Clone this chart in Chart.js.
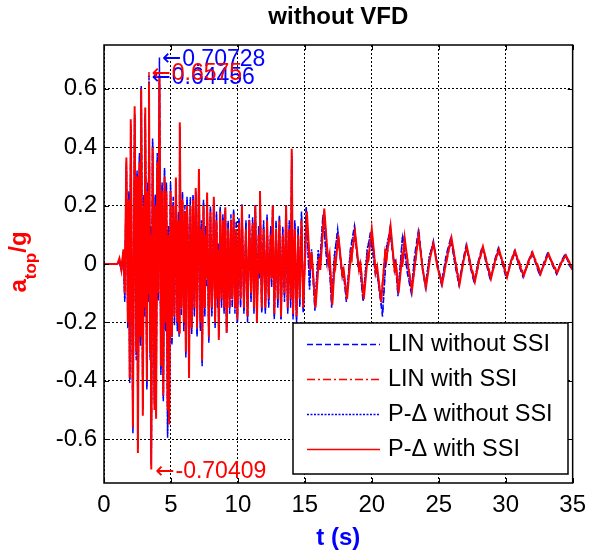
<!DOCTYPE html>
<html>
<head>
<meta charset="utf-8">
<script src="https://cdn.jsdelivr.net/npm/chart.js@4.4.1/dist/chart.umd.min.js"></script>
<style>
  html, body { margin: 0; padding: 0; background: #fff; }
  #wrap { width: 594px; height: 553px; }
</style>
</head>
<body>
<div id="wrap"><canvas id="accChart" width="594" height="553"></canvas></div>
<script>
// ----------------------------------------------------
// DATA
// ----------------------------------------------------
const xTicks = [0, 5, 10, 15, 20, 25, 30, 35];
const yTicks = [-0.6, -0.4, -0.2, 0, 0.2, 0.4, 0.6];
const seriesNames = ['LIN without SSI', 'LIN with SSI', 'P-\u0394 without SSI', 'P-\u0394 with SSI'];

// turning points during strong shaking, shared by all four runs (s)
const tEarly = [
  0, 1.0, 1.15, 1.3, 1.45, 1.55, 1.67, 1.78, 1.86, 1.92, 2.00, 2.16,
  2.29, 2.41, 2.47, 2.53, 2.65, 2.72, 2.78, 2.90, 2.98, 3.03, 3.08, 3.20,
  3.27, 3.30, 3.36, 3.45, 3.48, 3.53, 3.63, 3.77, 3.83, 3.89, 3.98, 4.05,
  4.14, 4.25, 4.34, 4.43, 4.52, 4.60, 4.66, 4.75, 4.81, 4.87, 4.97, 5.07,
  5.17, 5.26, 5.37, 5.48, 5.56, 5.61, 5.66, 5.77, 5.86, 5.96, 6.04, 6.11,
  6.20, 6.28, 6.35, 6.45, 6.55, 6.65, 6.75, 6.85, 6.95, 7.09, 7.20, 7.27,
  7.33, 7.43, 7.53, 7.60, 7.65, 7.70, 7.83, 7.95, 8.05, 8.12, 8.20, 8.30,
  8.40, 8.48, 8.53, 8.57, 8.68, 8.78, 8.88, 8.97, 9.06, 9.16, 9.27, 9.38,
  9.48, 9.58, 9.68, 9.78, 9.88, 9.96, 10.08, 10.2, 10.3, 10.45, 10.6, 10.72,
  10.85, 10.98, 11.1, 11.2, 11.3, 11.42, 11.55, 11.6, 11.65, 11.78, 11.92, 12.05,
  12.18, 12.3, 12.45, 12.52, 12.6, 12.72, 12.85, 12.98, 13.1, 13.22, 13.35, 13.48,
  13.6, 13.72, 13.84, 13.94, 14.02, 14.12, 14.25, 14.38, 14.5, 14.62, 14.75, 14.88
];

// free vibration tail, with SSI (s)
const tLateSSI = [
  15.15, 15.4, 15.5, 15.8, 16.05, 16.15, 16.45, 16.75, 16.85, 17.05,
  17.25, 17.3, 17.5, 17.8, 17.9, 18.15, 18.45, 18.5, 18.75, 19.05,
  19.15, 19.4, 19.7, 19.75, 20.0, 20.3, 20.4, 20.7, 21.0, 21.1,
  21.4, 21.7, 21.8, 22.0, 22.25, 22.3, 22.45, 22.75, 23.0, 23.3,
  23.5, 23.8, 24.05, 24.35, 24.6, 24.9, 25.25, 25.6, 25.95, 26.3,
  26.55, 26.85, 27.1, 27.4, 27.7, 28.0, 28.3, 28.6, 28.9, 29.2,
  29.5, 29.8, 30.1, 30.4, 30.7, 31.0, 31.35, 31.7, 32.0, 32.3,
  32.6, 32.9, 33.2, 33.5, 33.85, 34.15, 34.5, 34.8, 35.0
];

// free vibration tail, fixed base (s)
const tLateFix = [
  15.1, 15.35,
  15.5, 15.75, 16.0, 16.1, 16.35, 16.65, 16.8, 17.0, 17.2, 17.45,
  17.75, 17.85, 18.1, 18.4, 18.7, 19.0, 19.1, 19.35, 19.65, 19.9,
  20.25, 20.35, 20.8, 21.1, 21.35, 21.65, 21.75, 21.95, 22.3, 22.65,
  22.95, 23.2, 23.5, 23.8, 24.0, 24.3, 24.6, 24.9, 25.2, 25.55,
  25.9, 26.2, 26.5, 26.8, 27.05, 27.35, 27.65, 27.95, 28.25, 28.55,
  28.85, 29.15, 29.45, 29.75, 30.05, 30.35, 30.65, 30.95, 31.3, 31.65,
  31.95, 32.25, 32.55, 32.85, 33.15, 33.45, 33.8, 34.1, 34.45, 34.75,
  35.0
];

// P-Delta with SSI (red solid)
const aPDSSIEarly = [
  0, 0, 0.02, -0.02, 0.05, -0.1, 0.365, -0.2, 0.22, -0.39, 0.496, -0.56,
  0.54, -0.3, 0.3, -0.647, 0.35, -0.25, 0.6, -0.52, 0.2, -0.15, 0.536, -0.4,
  0.25, -0.1, 0.62, -0.3, 0.1, -0.704, 0.4, -0.5, 0.2, -0.53, 0.35, -0.1,
  0.645, -0.35, 0.25, -0.45, 0.3, -0.2, 0.25, -0.5, 0.1, -0.55, 0.25, -0.25,
  0.2, -0.18, 0.296, -0.2, 0.15, -0.235, 0.485, -0.15, 0.22, -0.2, 0.18, -0.3,
  0.2, 0.05, -0.39, 0.2, -0.22, 0.22, -0.15, 0.26, -0.22, 0.325, -0.2, 0.12,
  -0.33, 0.2, -0.15, 0.1, -0.05, 0.245, -0.25, 0.18, -0.15, -0.05, 0.23, -0.2,
  0.15, -0.12, 0.05, -0.26, 0.18, -0.12, 0.15, -0.15, 0.194, -0.235, 0.12, -0.15,
  0.15, -0.12, 0.17, -0.15, 0.12, -0.19, 0.14, -0.12, 0.2, -0.15, 0.12, -0.18,
  0.15, -0.1, 0.14, -0.15, 0.2, -0.2, 0.1, -0.03, 0.25, -0.15, 0.12, -0.15,
  0.15, -0.12, 0.1, -0.05, 0.2, -0.17, 0.12, -0.12, 0.15, -0.18, 0.1, -0.1,
  0.2, -0.15, 0.12, -0.12, 0.395, -0.17, 0.12, -0.18, 0.1, -0.12, 0.15, -0.15
];
const aPDSSILate = [
  0.18, -0.02, 0.04, -0.15, 0.02, -0.02, 0.19, 0.0, 0.03, -0.14,
  0.02, 0.0, 0.10, -0.04, -0.02, -0.12, 0.04, 0.03, 0.11, -0.02,
  0.0, -0.12, 0.03, 0.02, 0.12, -0.03, -0.01, -0.13, 0.04, 0.02,
  0.13, -0.02, 0.0, -0.1, 0.02, 0.0, 0.09, -0.02, -0.09, 0.03,
  0.1, -0.02, -0.08, 0.02, 0.07, -0.01, -0.07, 0.02, 0.09, -0.01,
  -0.07, 0.01, 0.06, -0.01, -0.06, 0.01, 0.06, 0.0, -0.05, 0.01,
  0.05, 0.0, -0.045, 0.01, 0.045, 0.0, -0.04, 0.01, 0.04, 0.0,
  -0.035, 0.005, 0.035, 0.0, -0.03, 0.005, 0.03, 0.0, -0.02
];

// LIN with SSI (red dash-dot)
const aLINSSIEarly = [
  0, 0, 0.015, -0.018, 0.045, -0.09, 0.35, -0.18, 0.2, -0.37, 0.48, -0.54,
  0.52, -0.28, 0.28, -0.63, 0.33, -0.23, 0.58, -0.5, 0.22, -0.13, 0.52, -0.38,
  0.23, -0.12, 0.6575, -0.28, 0.12, -0.68, 0.38, -0.48, 0.22, -0.51, 0.33, -0.12,
  0.63, -0.33, 0.23, -0.43, 0.28, -0.22, 0.23, -0.48, 0.12, -0.53, 0.23, -0.23,
  0.19, -0.17, 0.28, -0.19, 0.14, -0.22, 0.47, -0.14, 0.21, -0.19, 0.17, -0.28,
  0.19, 0.04, -0.37, 0.19, -0.21, 0.21, -0.14, 0.25, -0.21, 0.31, -0.19, 0.11,
  -0.31, 0.19, -0.14, 0.09, -0.04, 0.23, -0.24, 0.17, -0.14, -0.04, 0.22, -0.19,
  0.14, -0.11, 0.04, -0.25, 0.17, -0.11, 0.14, -0.14, 0.18, -0.22, 0.11, -0.14,
  0.14, -0.11, 0.16, -0.14, 0.11, -0.18, 0.13, -0.11, 0.19, -0.14, 0.11, -0.17,
  0.14, -0.09, 0.13, -0.14, 0.19, -0.19, 0.09, -0.02, 0.24, -0.14, 0.11, -0.14,
  0.14, -0.11, 0.09, -0.04, 0.19, -0.16, 0.11, -0.11, 0.14, -0.17, 0.09, -0.09,
  0.19, -0.14, 0.11, -0.11, 0.37, -0.16, 0.11, -0.17, 0.09, -0.11, 0.14, -0.14
];
const aLINSSILate = [
  0.16, -0.03, 0.03, -0.14, 0.03, -0.01, 0.17, 0.01, 0.02, -0.13,
  0.03, 0.01, 0.09, -0.03, -0.03, -0.11, 0.05, 0.02, 0.1, -0.03,
  0.01, -0.11, 0.04, 0.01, 0.11, -0.02, -0.02, -0.12, 0.05, 0.01,
  0.12, -0.03, 0.01, -0.09, 0.03, -0.01, 0.085, -0.01, -0.085, 0.02,
  0.095, -0.01, -0.075, 0.03, 0.065, 0.0, -0.065, 0.01, 0.085, 0.0,
  -0.065, 0.02, 0.055, 0.0, -0.055, 0.0, 0.055, 0.01, -0.045, 0.0,
  0.045, 0.01, -0.04, 0.0, 0.04, 0.01, -0.035, 0.0, 0.035, 0.01,
  -0.03, 0.0, 0.03, 0.005, -0.025, 0.0, 0.025, 0.005, -0.015
];

// LIN without SSI (blue dashed)
const aLINFixEarly = [
  0, 0, 0.01, -0.025, 0.04, -0.13, 0.33, -0.22, 0.25, -0.4, 0.46, -0.58,
  0.5, -0.33, 0.32, -0.6, 0.38, -0.28, 0.61, -0.49, 0.24, -0.18, 0.5, -0.43,
  0.28, -0.13, 0.58, -0.33, 0.13, -0.66, 0.43, -0.47, 0.24, -0.5, 0.38, -0.13,
  0.70728, -0.38, 0.28, -0.47, 0.33, -0.23, 0.28, -0.595, 0.13, -0.52, 0.28, -0.28,
  0.23, -0.21, 0.27, -0.23, 0.18, -0.25, 0.45, -0.18, 0.25, -0.23, 0.2, -0.32,
  0.23, 0.07, -0.37, 0.23, -0.24, 0.24, -0.18, 0.24, -0.25, 0.3, -0.23, 0.15,
  -0.35, 0.22, -0.18, 0.13, -0.08, 0.22, -0.27, 0.2, -0.18, -0.07, 0.21, -0.22,
  0.18, -0.15, 0.07, -0.24, 0.2, -0.15, 0.17, -0.17, 0.18, -0.235, 0.15, -0.17,
  0.17, -0.15, 0.19, -0.17, 0.15, -0.2, 0.16, -0.15, 0.205, -0.17, 0.15, -0.2,
  0.17, -0.13, 0.16, -0.17, 0.2, -0.18, 0.13, -0.05, 0.22, -0.17, 0.15, -0.17,
  0.17, -0.15, 0.13, -0.08, 0.2, -0.19, 0.15, -0.15, 0.17, -0.19, 0.13, -0.13,
  0.2, -0.17, 0.15, -0.15, 0.36, -0.19, 0.15, -0.2, 0.13, -0.15, 0.18, -0.17
];
const aLINFixLate = [
  0.2, -0.08,
  0.04, -0.16, 0.04, -0.02, 0.17, 0.0, 0.03, -0.15, 0.02, 0.12,
  -0.03, -0.01, -0.13, 0.05, 0.13, -0.02, 0.0, -0.13, 0.04, 0.11,
  -0.03, -0.01, -0.18, 0.05, 0.12, 0.0, 0.02, -0.11, 0.1, -0.03,
  -0.1, 0.03, 0.12, -0.02, -0.08, 0.02, 0.08, -0.01, -0.07, 0.03,
  0.09, 0.0, -0.07, 0.01, 0.065, -0.01, -0.065, 0.01, 0.06, 0.0,
  -0.055, 0.01, 0.055, 0.0, -0.05, 0.005, 0.045, 0.0, -0.045, 0.005,
  0.04, 0.0, -0.04, 0.005, 0.04, 0.0, -0.035, 0.005, 0.035, -0.005,
  -0.02
];

// P-Delta without SSI (blue dotted)
const aPDFixEarly = [
  0, 0, 0.012, -0.022, 0.042, -0.12, 0.34, -0.21, 0.24, -0.41, 0.47, -0.57,
  0.51, -0.32, 0.31, -0.62, 0.37, -0.27, 0.6, -0.5, 0.23, -0.17, 0.51, -0.42,
  0.27, -0.12, 0.64456, -0.32, 0.12, -0.69, 0.42, -0.48, 0.23, -0.52, 0.37, -0.12,
  0.62, -0.37, 0.27, -0.46, 0.32, -0.22, 0.27, -0.58, 0.12, -0.54, 0.27, -0.27,
  0.22, -0.2, 0.28, -0.22, 0.17, -0.24, 0.47, -0.17, 0.24, -0.22, 0.19, -0.31,
  0.22, 0.06, -0.38, 0.22, -0.23, 0.23, -0.17, 0.25, -0.24, 0.31, -0.22, 0.14,
  -0.34, 0.21, -0.17, 0.12, -0.07, 0.23, -0.26, 0.19, -0.17, -0.06, 0.22, -0.21,
  0.17, -0.14, 0.06, -0.25, 0.19, -0.14, 0.16, -0.16, 0.19, -0.23, 0.14, -0.16,
  0.16, -0.14, 0.18, -0.16, 0.14, -0.2, 0.15, -0.14, 0.2, -0.16, 0.14, -0.19,
  0.16, -0.12, 0.15, -0.16, 0.2, -0.19, 0.12, -0.04, 0.23, -0.16, 0.14, -0.16,
  0.16, -0.14, 0.12, -0.07, 0.2, -0.18, 0.14, -0.14, 0.16, -0.19, 0.12, -0.12,
  0.2, -0.16, 0.14, -0.14, 0.38, -0.18, 0.14, -0.19, 0.12, -0.14, 0.17, -0.16
];
const aPDFixLate = [
  0.19, -0.09,
  0.05, -0.15, 0.05, -0.01, 0.16, 0.01, 0.02, -0.14, 0.03, 0.11,
  -0.02, -0.02, -0.12, 0.04, 0.12, -0.01, -0.01, -0.12, 0.05, 0.1,
  -0.02, -0.02, -0.17, 0.06, 0.11, 0.01, 0.01, -0.1, 0.09, -0.02,
  -0.09, 0.02, 0.11, -0.01, -0.075, 0.03, 0.075, 0.0, -0.065, 0.02,
  0.085, 0.01, -0.065, 0.0, 0.06, 0.0, -0.06, 0.0, 0.055, 0.01,
  -0.05, 0.0, 0.05, 0.01, -0.045, 0.0, 0.04, 0.005, -0.04, 0.0,
  0.035, 0.005, -0.035, 0.0, 0.035, 0.005, -0.03, 0.0, 0.03, 0.0,
  -0.015
];

// peak labels placed on the plot
const annT = [4.1, 3.32, 3.32, 3.6];
const annV = [0.70728, 0.64456, 0.6575, -0.70409];
const annText = ['0.70728', '0.64456', '0.6575', '-0.70409'];
const annColor = ['#0000ff', '#0000ff', '#ff0000', '#ff0000'];

// ----------------------------------------------------
// CHART
// ----------------------------------------------------
const FONT = "'Liberation Sans', Arial, sans-serif";
Chart.defaults.font.family = FONT;
Chart.defaults.color = '#000';

function toXY(ts, as) {
    return ts.map((t, i) => ({ x: t, y: as[i] }));
}

const decor = {
    id: 'decor',
    afterDraw(chart) {
        const { ctx, chartArea: a, scales: { x, y } } = chart;
        ctx.save();
        ctx.setLineDash([]);
        ctx.strokeStyle = '#000';
        ctx.lineWidth = 1;

        // inward ticks on all four sides
        ctx.beginPath();
        xTicks.forEach(v => {
            const px = Math.round(x.getPixelForValue(v)) + 0.5;
            ctx.moveTo(px, a.bottom); ctx.lineTo(px, a.bottom - 5);
            ctx.moveTo(px, a.top); ctx.lineTo(px, a.top + 5);
        });
        yTicks.forEach(v => {
            const py = Math.round(y.getPixelForValue(v)) + 0.5;
            ctx.moveTo(a.left, py); ctx.lineTo(a.left + 5, py);
            ctx.moveTo(a.right, py); ctx.lineTo(a.right - 5, py);
        });
        ctx.stroke();

        // frame
        ctx.lineWidth = 1.5;
        ctx.strokeRect(a.left, a.top, a.right - a.left, a.bottom - a.top);

        // title
        ctx.fillStyle = '#000';
        ctx.font = 'bold 24px ' + FONT;
        ctx.textAlign = 'center';
        ctx.textBaseline = 'middle';
        ctx.fillText('without VFD', (a.left + a.right) / 2, 17);

        // peak labels: arrow then value
        ctx.textAlign = 'left';
        annT.forEach((t, i) => {
            const px = x.getPixelForValue(t) + 3, py = y.getPixelForValue(annV[i]) + 2;
            ctx.fillStyle = annColor[i];
            ctx.font = "23px 'DejaVu Sans', sans-serif";
            ctx.fillText('\u2190', px, py);
            const w = ctx.measureText('\u2190').width;
            ctx.font = '23px ' + FONT;
            ctx.fillText(annText[i], px + w + 1, py);
        });

        // legend box
        const lx = 293, ly = 323, lw = 275, lh = 151;
        ctx.fillStyle = '#fff';
        ctx.fillRect(lx, ly, lw, lh);
        ctx.strokeStyle = '#000';
        ctx.lineWidth = 1.5;
        ctx.strokeRect(lx, ly, lw, lh);
        ctx.font = '23.5px ' + FONT;
        seriesNames.forEach((name, i) => {
            const ds = chart.data.datasets[i];
            const ry = ly + 21 + i * 35;
            ctx.strokeStyle = ds.borderColor;
            ctx.lineWidth = 1.5;
            ctx.setLineDash(ds.borderDash || []);
            ctx.beginPath();
            ctx.moveTo(lx + 14, ry + 0.5);
            ctx.lineTo(lx + 87, ry + 0.5);
            ctx.stroke();
            ctx.setLineDash([]);
            ctx.fillStyle = '#000';
            ctx.fillText(name, lx + 95, ry + 1);
        });

        // x axis title
        ctx.fillStyle = '#0000ff';
        ctx.font = 'bold 24px ' + FONT;
        ctx.textAlign = 'center';
        ctx.textBaseline = 'middle';
        ctx.fillText('t (s)', (a.left + a.right) / 2, 538);

        // y axis title: a_top/g
        ctx.save();
        ctx.translate(26, 262);
        ctx.rotate(-Math.PI / 2);
        ctx.fillStyle = '#ff0000';
        ctx.textAlign = 'left';
        ctx.textBaseline = 'alphabetic';
        const big = 'bold 24px ' + FONT, small = 'bold 17px ' + FONT;
        ctx.font = big; const wA = ctx.measureText('a').width, wG = ctx.measureText('/g').width;
        ctx.font = small; const wT = ctx.measureText('top').width;
        let sx = -(wA + wT + wG) / 2;
        ctx.font = big; ctx.fillText('a', sx, 0); sx += wA;
        ctx.font = small; ctx.fillText('top', sx, 10); sx += wT;
        ctx.font = big; ctx.fillText('/g', sx, 0);
        ctx.restore();

        ctx.restore();
    }
};

const ctx = document.getElementById('accChart').getContext('2d');
new Chart(ctx, {
    type: 'line',
    data: {
        datasets: [
            { label: seriesNames[0], data: toXY([...tEarly, ...tLateFix], [...aLINFixEarly, ...aLINFixLate]),
              borderColor: '#0000ff', borderWidth: 1.5, borderDash: [6, 3], order: 4 },
            { label: seriesNames[1], data: toXY([...tEarly, ...tLateSSI], [...aLINSSIEarly, ...aLINSSILate]),
              borderColor: '#ff0000', borderWidth: 1.5, borderDash: [8, 3, 2, 3], order: 3 },
            { label: seriesNames[2], data: toXY([...tEarly, ...tLateFix], [...aPDFixEarly, ...aPDFixLate]),
              borderColor: '#0000ff', borderWidth: 1.5, borderDash: [2, 1.5], order: 2 },
            { label: seriesNames[3], data: toXY([...tEarly, ...tLateSSI], [...aPDSSIEarly, ...aPDSSILate]),
              borderColor: '#ff0000', borderWidth: 2, order: 1 }
        ]
    },
    options: {
        responsive: false,
        devicePixelRatio: 1,
        animation: false,
        layout: { padding: { left: 0, right: 16, top: 45, bottom: 0 } },
        elements: { point: { radius: 0 }, line: { tension: 0, fill: false } },
        plugins: {
            legend: { display: false },
            tooltip: { enabled: false },
            title: { display: false }
        },
        scales: {
            x: {
                type: 'linear', min: 0, max: 35,
                afterBuildTicks: s => { s.ticks = xTicks.map(v => ({ value: v })); },
                afterFit: s => { s.height = 70; },
                ticks: { font: { size: 24 }, padding: 8, maxRotation: 0, callback: v => String(v) },
                grid: { color: '#000', lineWidth: 1, drawTicks: false },
                border: { display: false, dash: [2, 2] }
            },
            y: {
                type: 'linear', min: -0.75, max: 0.75,
                afterBuildTicks: s => { s.ticks = yTicks.map(v => ({ value: v })); },
                afterFit: s => { s.width = 104; },
                ticks: { font: { size: 24 }, padding: 7, callback: v => (v === 0 ? '0' : String(v)) },
                grid: { color: '#000', lineWidth: 1, drawTicks: false },
                border: { display: false, dash: [2, 2] }
            }
        }
    },
    plugins: [decor]
});
</script>
</body>
</html>
